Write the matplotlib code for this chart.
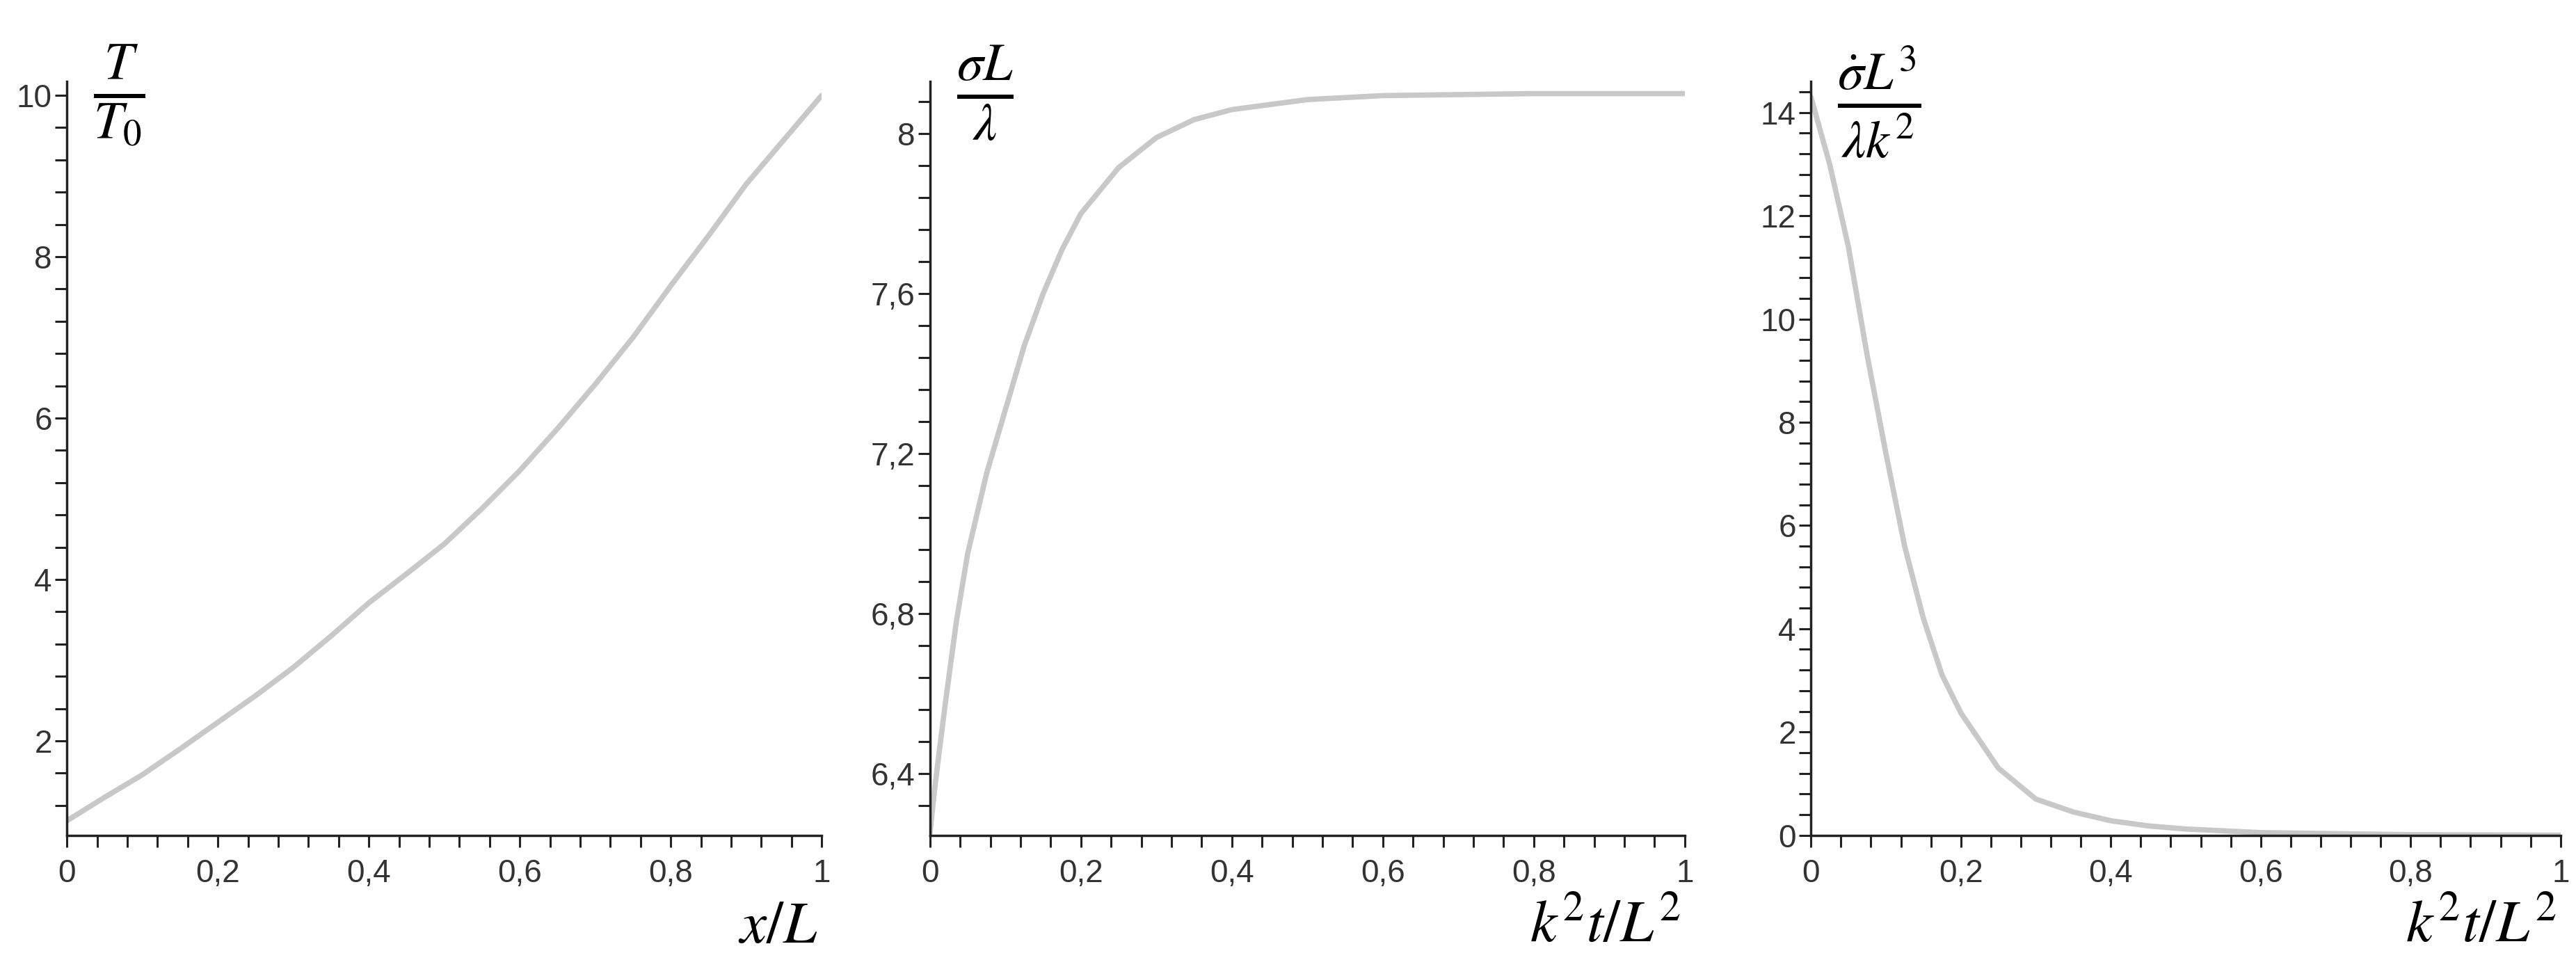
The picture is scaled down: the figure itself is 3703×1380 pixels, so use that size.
import matplotlib
matplotlib.use("Agg")
import matplotlib.pyplot as plt
from matplotlib.ticker import MultipleLocator, FuncFormatter

plt.rcParams['font.family'] = ['Liberation Sans', 'DejaVu Sans']
plt.rcParams['mathtext.fontset'] = 'stix'

x1 = [0, 0.05, 0.1, 0.15, 0.2, 0.25, 0.3, 0.35, 0.4, 0.45, 0.5, 0.55, 0.6, 0.65, 0.7, 0.75, 0.8, 0.85, 0.9, 0.95, 1.0]
y1 = [1.01, 1.3, 1.58, 1.9, 2.23, 2.56, 2.91, 3.3, 3.71, 4.07, 4.44, 4.88, 5.35, 5.87, 6.42, 7.0, 7.64, 8.26, 8.9, 9.45, 10.0]

x2 = [0, 0.005, 0.01, 0.02, 0.035, 0.05, 0.075, 0.1, 0.125, 0.15, 0.175, 0.2, 0.25, 0.3, 0.35, 0.4, 0.5, 0.6, 0.8, 1.0]
y2 = [6.25, 6.34, 6.42, 6.57, 6.78, 6.95, 7.15, 7.31, 7.47, 7.6, 7.71, 7.8, 7.915, 7.99, 8.035, 8.06, 8.085, 8.095, 8.1, 8.1]

x3 = [0, 0.025, 0.05, 0.075, 0.1, 0.125, 0.15, 0.175, 0.2, 0.25, 0.3, 0.35, 0.4, 0.45, 0.5, 0.6, 0.8, 1.0]
y3 = [14.3, 13.0, 11.4, 9.3, 7.4, 5.6, 4.2, 3.1, 2.37, 1.3, 0.7, 0.45, 0.28, 0.18, 0.12, 0.05, 0.01, 0.0]

fig = plt.figure(figsize=(37.03, 13.8), dpi=100)
positions = [[0.026, 0.13, 0.293, 0.785], [0.361, 0.13, 0.293, 0.785], [0.703, 0.13, 0.291, 0.785]]
datasets = [(x1, y1), (x2, y2), (x3, y3)]
ylims = [(0.83, 10.17), (6.246, 8.13), (0, 14.6)]
majors = [2, 0.4, 2]
minors = [0.4, 0.08, 0.4]
ylabels = [r'$\frac{T}{T_0}$', r'$\frac{\sigma L}{\lambda}$', r'$\frac{\dot{\sigma} L^3}{\lambda k^2}$']
xlabels = [r'$x/L$', r'$k^2t/L^2$', r'$k^2t/L^2$']

fmt = FuncFormatter(lambda v, p: ('%g' % round(v, 3)).replace('.', ','))

for pos, (xs, ys), yl, mj, mn, ylab, xlab in zip(positions, datasets, ylims, majors, minors, ylabels, xlabels):
    ax = fig.add_axes(pos)
    ax.plot(xs, ys, color='#c8c8c8', lw=5.5, solid_capstyle='round', solid_joinstyle='round')
    ax.set_xlim(0, 1)
    ax.set_ylim(*yl)
    for s in ['top', 'right']:
        ax.spines[s].set_visible(False)
    for s in ['left', 'bottom']:
        ax.spines[s].set_linewidth(2.5)
        ax.spines[s].set_color('#222222')
    ax.xaxis.set_major_locator(MultipleLocator(0.2))
    ax.xaxis.set_minor_locator(MultipleLocator(0.04))
    ax.yaxis.set_major_locator(MultipleLocator(mj))
    ax.yaxis.set_minor_locator(MultipleLocator(mn))
    ax.xaxis.set_major_formatter(fmt)
    ax.yaxis.set_major_formatter(fmt)
    ax.tick_params(which='both', direction='out', width=2.2, color='#222222', labelsize=33, labelcolor='#333333', length=12)
    ax.tick_params(axis='x', pad=12)
    ax.text(0.035, 1.05, ylab, transform=ax.transAxes, fontsize=78, va='top', ha='left')
    ax.text(0.995, -0.085, xlab, transform=ax.transAxes, fontsize=62, va='top', ha='right')

fig.savefig('out.png', dpi=100, facecolor='white')
